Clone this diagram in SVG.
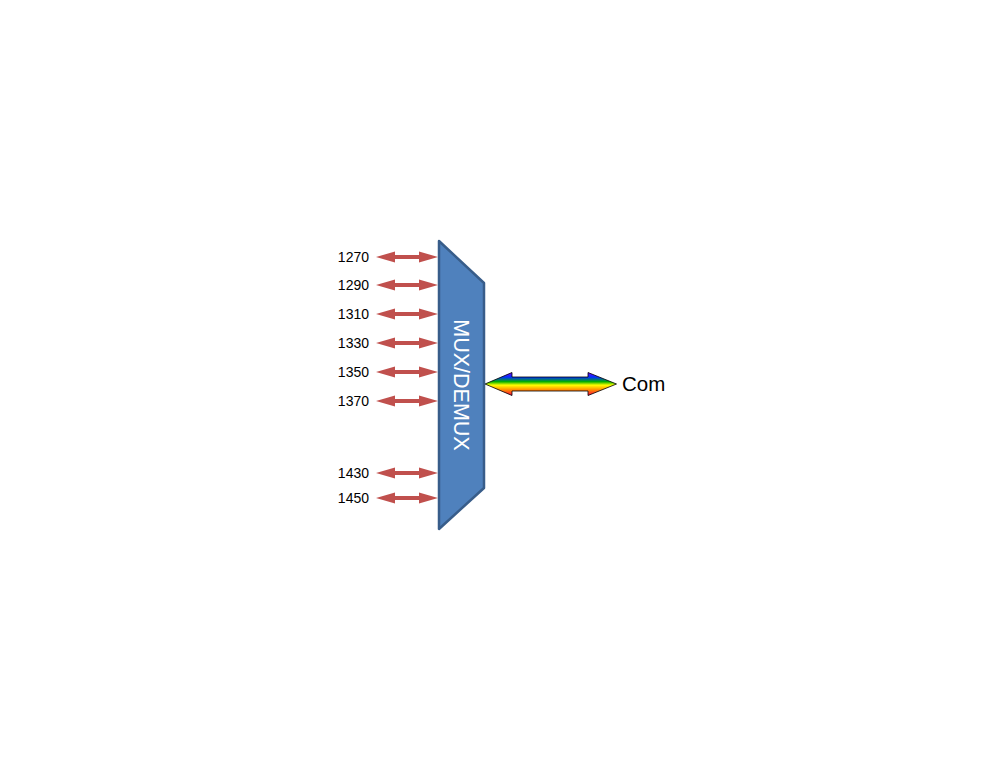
<svg xmlns="http://www.w3.org/2000/svg" width="1006" height="768" viewBox="0 0 1006 768">
<style>
.lbl{font-family:"Liberation Sans",Arial,sans-serif;font-size:14px;fill:#000;text-anchor:end}
.red{fill:#C0504D}
</style>
<defs>
<path id="ra" d="M0,0 L19,-5.5 L19,-2 L43,-2 L43,-5.5 L62,0 L43,5.5 L43,2 L19,2 L19,5.5 Z"/>
<linearGradient id="rb" x1="0" y1="0" x2="0" y2="1">
<stop offset="0" stop-color="#7a00ff"/>
<stop offset="0.2" stop-color="#0030ff"/>
<stop offset="0.4" stop-color="#00b000"/>
<stop offset="0.55" stop-color="#ffff00"/>
<stop offset="0.75" stop-color="#ff9000"/>
<stop offset="1" stop-color="#ff0040"/>
</linearGradient>
</defs>
<rect width="1006" height="768" fill="#fff"/>
<g id="connectors">
<use href="#ra" class="red" x="376" y="257"/>
<use href="#ra" class="red" x="376" y="285"/>
<use href="#ra" class="red" x="376" y="314"/>
<use href="#ra" class="red" x="376" y="343"/>
<use href="#ra" class="red" x="376" y="372"/>
<use href="#ra" class="red" x="376" y="401"/>
<use href="#ra" class="red" x="376" y="473"/>
<use href="#ra" class="red" x="376" y="498"/>
<path d="M485,384 L512,372.5 L512,377 L588,377 L588,372.5 L616.5,384 L588,395.5 L588,391 L512,391 L512,395.5 Z" fill="url(#rb)" stroke="#000" stroke-width="0.8"/>
</g>
<g id="labels">
<text class="lbl" x="369" y="262">1270</text>
<text class="lbl" x="369" y="290">1290</text>
<text class="lbl" x="369" y="319">1310</text>
<text class="lbl" x="369" y="348">1330</text>
<text class="lbl" x="369" y="377">1350</text>
<text class="lbl" x="369" y="406">1370</text>
<text class="lbl" x="369" y="478">1430</text>
<text class="lbl" x="369" y="503">1450</text>
</g>
<g id="mux">
<path d="M439,241 L484,283 L484,488 L439,529 Z" fill="#4F81BD" stroke="#385D8A" stroke-width="2.5" stroke-linejoin="round"/>
<text transform="translate(454,385) rotate(90)" font-family="'Liberation Sans',Arial,sans-serif" font-size="21.5" fill="#fff" text-anchor="middle">MUX/DEMUX</text>
</g>
<g id="com">
<text x="622" y="391" font-family="'Liberation Sans',Arial,sans-serif" font-size="20.5" fill="#000">Com</text>
</g>
</svg>
